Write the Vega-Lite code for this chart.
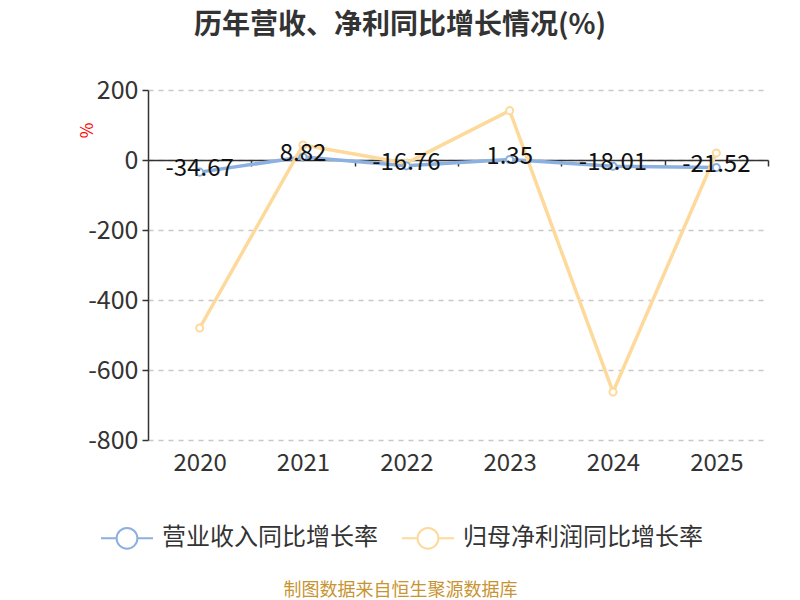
{
  "$schema": "https://vega.github.io/schema/vega-lite/v6.json",
  "width": 620,
  "height": 350,
  "autosize": {"type": "none"},
  "padding": {"left": 148, "top": 90, "right": 32, "bottom": 160},
  "background": "white",
  "config": {
    "font": "Noto Sans CJK SC",
    "view": {"stroke": null},
    "locale": {
      "number": {"decimal": ".", "thousands": ",", "grouping": [3], "currency": ["", ""], "minus": "-"}
    }
  },
  "title": {
    "text": "历年营收、净利同比增长情况(%)",
    "anchor": "middle",
    "dx": -58,
    "offset": 38,
    "fontSize": 28,
    "fontWeight": "bold",
    "color": "#333333",
    "font": "Noto Sans CJK SC"
  },
  "data": {
    "values": [
      {"year": "2020", "series": "营业收入同比增长率", "value": -34.67},
      {"year": "2021", "series": "营业收入同比增长率", "value": 8.82},
      {"year": "2022", "series": "营业收入同比增长率", "value": -16.76},
      {"year": "2023", "series": "营业收入同比增长率", "value": 1.35},
      {"year": "2024", "series": "营业收入同比增长率", "value": -18.01},
      {"year": "2025", "series": "营业收入同比增长率", "value": -21.52},
      {"year": "2020", "series": "归母净利润同比增长率", "value": -480},
      {"year": "2021", "series": "归母净利润同比增长率", "value": 43},
      {"year": "2022", "series": "归母净利润同比增长率", "value": -9},
      {"year": "2023", "series": "归母净利润同比增长率", "value": 141},
      {"year": "2024", "series": "归母净利润同比增长率", "value": -663},
      {"year": "2025", "series": "归母净利润同比增长率", "value": 20}
    ]
  },
  "resolve": {"scale": {"x": "independent"}, "axis": {"x": "independent"}},
  "layer": [
    {
      "mark": {
        "type": "line",
        "strokeWidth": 3.5,
        "point": {"filled": false, "fill": "white", "size": 50, "strokeWidth": 2}
      },
      "encoding": {
        "x": {
          "field": "year",
          "type": "ordinal",
          "scale": {"type": "point", "padding": 0.5},
          "axis": {
            "orient": "bottom",
            "domain": false,
            "ticks": false,
            "grid": false,
            "labelAngle": 0,
            "labelFontSize": 24,
            "labelColor": "#333333",
            "labelPadding": 11,
            "title": "制图数据来自恒生聚源数据库",
            "titleFontSize": 18,
            "titleFontWeight": "normal",
            "titleColor": "#c89432",
            "titleX": 252,
            "titleY": 150,
            "titleAlign": "center",
            "titleBaseline": "middle"
          }
        },
        "y": {
          "field": "value",
          "type": "quantitative",
          "scale": {"domain": [-800, 200], "nice": false, "zero": false},
          "axis": {
            "values": [-800, -600, -400, -200, 0, 200],
            "grid": true,
            "gridDash": [5, 5],
            "gridColor": "#c8c8c8",
            "gridWidth": 1.5,
            "domainColor": "#333333",
            "domainWidth": 1.5,
            "tickColor": "#333333",
            "tickSize": 6,
            "tickWidth": 1.5,
            "labelFontSize": 25,
            "labelColor": "#333333",
            "labelPadding": 4,
            "title": "%",
            "titleColor": "#ff0000",
            "titleFontSize": 17,
            "titleFontWeight": "normal",
            "titleAngle": -90,
            "titleX": -61,
            "titleY": 40,
            "titleAlign": "center",
            "titleBaseline": "middle"
          }
        },
        "color": {
          "field": "series",
          "type": "nominal",
          "sort": ["营业收入同比增长率", "归母净利润同比增长率"],
          "scale": {
            "domain": ["营业收入同比增长率", "归母净利润同比增长率"],
            "range": ["#8cb0e0", "#fdd99b"]
          },
          "legend": {
            "title": null,
            "orient": "none",
            "direction": "horizontal",
            "legendX": -48,
            "legendY": 421,
            "symbolType": "M-1,0L-0.4,0M0.4,0L1,0M-0.4,0A0.4,0.4,0,1,0,0.4,0A0.4,0.4,0,1,0,-0.4,0",
            "symbolSize": 2704,
            "symbolStrokeWidth": 2,
            "symbolFillColor": "white",
            "labelFontSize": 24,
            "labelColor": "#333333",
            "labelOffset": 8,
            "columnPadding": 20,
            "labelLimit": 400
          }
        },
        "order": {"field": "series"}
      }
    },
    {
      "transform": [{"filter": "datum.series === '营业收入同比增长率'"}],
      "mark": {"type": "text", "fontSize": 24, "color": "#111111", "baseline": "middle", "dy": -3, "font": "Noto Sans CJK SC"},
      "encoding": {
        "x": {
          "field": "year",
          "type": "ordinal",
          "scale": {"type": "point", "padding": 0.5},
          "axis": {
            "orient": "top",
            "offset": -70,
            "labels": false,
            "grid": false,
            "title": null,
            "domain": true,
            "domainColor": "#333333",
            "domainWidth": 1.5,
            "ticks": true,
            "tickColor": "#333333",
            "tickWidth": 1.5,
            "tickSize": -6,
            "tickOffset": 51.67
          }
        },
        "y": {"field": "value", "type": "quantitative"},
        "text": {"field": "value", "type": "quantitative", "format": ".2f"}
      }
    }
  ]
}
